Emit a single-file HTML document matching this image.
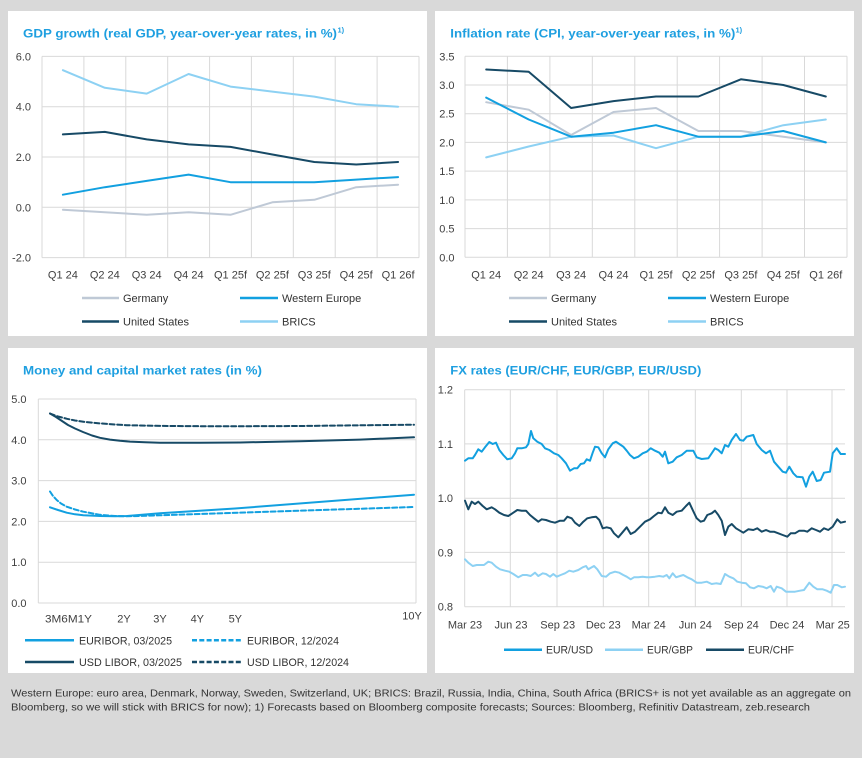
<!DOCTYPE html>
<html><head><meta charset="utf-8"><style>
html,body{margin:0;padding:0;background:#d9d9d9;}
svg{display:block;}
text{font-family:"Liberation Sans",sans-serif;}
.t{font-size:12px;font-weight:bold;fill:#1E9FE0;}
.sup{font-size:7.5px;font-weight:bold;fill:#1E9FE0;}
.tk{font-size:11px;fill:#404040;}
.lg{font-size:11px;fill:#333;}
.g{stroke:#d9d9d9;stroke-width:1;fill:none;}
.ln{fill:none;stroke-width:2;stroke-linejoin:round;stroke-linecap:round;}
.ft{font-size:10.5px;fill:#333;}
</style></head><body>
<svg width="862" height="758" viewBox="0 0 862 758" xmlns="http://www.w3.org/2000/svg">
<rect x="0" y="0" width="862" height="758" fill="#d9d9d9"/>
<rect x="8" y="11" width="419" height="325" fill="#fff"/>
<rect x="435" y="11" width="419" height="325" fill="#fff"/>
<rect x="8" y="348" width="419" height="325" fill="#fff"/>
<rect x="435" y="348" width="419" height="325" fill="#fff"/>

<!-- ===== GDP ===== -->
<text class="t" x="23" y="37.5" textLength="314" lengthAdjust="spacingAndGlyphs">GDP growth (real GDP, year-over-year rates, in %)</text>
<text class="sup" x="337.5" y="32.5">1)</text>
<g class="g">
<path d="M42 56.4H419M42 106.7H419M42 157H419M42 207.3H419M42 257.6H419"/>
<path d="M42 56.4V257.6M83.9 56.4V257.6M125.8 56.4V257.6M167.7 56.4V257.6M209.6 56.4V257.6M251.4 56.4V257.6M293.3 56.4V257.6M335.2 56.4V257.6M377.1 56.4V257.6M419 56.4V257.6"/>
</g>
<g class="tk" text-anchor="end">
<text x="31" y="60.4">6.0</text><text x="31" y="110.7">4.0</text><text x="31" y="161">2.0</text><text x="31" y="211.3">0.0</text><text x="31" y="261.6">-2.0</text>
</g>
<g class="tk" text-anchor="middle">
<text x="62.9" y="278.5">Q1 24</text><text x="104.8" y="278.5">Q2 24</text><text x="146.7" y="278.5">Q3 24</text><text x="188.6" y="278.5">Q4 24</text><text x="230.5" y="278.5">Q1 25f</text><text x="272.4" y="278.5">Q2 25f</text><text x="314.3" y="278.5">Q3 25f</text><text x="356.2" y="278.5">Q4 25f</text><text x="398.1" y="278.5">Q1 26f</text>
</g>
<polyline class="ln" stroke="#BFC9D6" points="62.9,209.8 104.8,212.3 146.7,214.8 188.6,212.3 230.5,214.8 272.4,202.3 314.3,199.8 356.2,187.2 398.1,184.7"/>
<polyline class="ln" stroke="#12A0E0" points="62.9,194.7 104.8,187.2 146.7,180.9 188.6,174.6 230.5,182.2 272.4,182.2 314.3,182.2 356.2,179.6 398.1,177.1"/>
<polyline class="ln" stroke="#174A66" points="62.9,134.4 104.8,131.9 146.7,139.4 188.6,144.4 230.5,146.9 272.4,154.5 314.3,162 356.2,164.5 398.1,162"/>
<polyline class="ln" stroke="#8DD1F3" points="62.9,70.2 104.8,87.8 146.7,93.6 188.6,74 230.5,86.6 272.4,91.6 314.3,96.6 356.2,104.2 398.1,106.7"/>
<g stroke-width="2.5">
<line x1="82" y1="298" x2="119" y2="298" stroke="#BFC9D6"/>
<line x1="240" y1="298" x2="278" y2="298" stroke="#12A0E0"/>
<line x1="82" y1="321.5" x2="119" y2="321.5" stroke="#174A66"/>
<line x1="240" y1="321.5" x2="278" y2="321.5" stroke="#8DD1F3"/>
</g>
<g class="lg">
<text x="123" y="302">Germany</text><text x="282" y="302">Western Europe</text>
<text x="123" y="325.5">United States</text><text x="282" y="325.5">BRICS</text>
</g>

<!-- ===== Inflation ===== -->
<text class="t" x="450.3" y="37.5" textLength="285" lengthAdjust="spacingAndGlyphs">Inflation rate (CPI, year-over-year rates, in %)</text>
<text class="sup" x="735.5" y="32.5">1)</text>
<g class="g">
<path d="M465 56.3H847M465 85H847M465 113.7H847M465 142.4H847M465 171.1H847M465 199.9H847M465 228.6H847M465 257.3H847"/>
<path d="M465 56.3V257.3M507.4 56.3V257.3M549.9 56.3V257.3M592.3 56.3V257.3M634.8 56.3V257.3M677.2 56.3V257.3M719.6 56.3V257.3M762.1 56.3V257.3M804.5 56.3V257.3M847 56.3V257.3"/>
</g>
<g class="tk" text-anchor="end">
<text x="454.5" y="60.3">3.5</text><text x="454.5" y="89">3.0</text><text x="454.5" y="117.7">2.5</text><text x="454.5" y="146.4">2.0</text><text x="454.5" y="175.1">1.5</text><text x="454.5" y="203.9">1.0</text><text x="454.5" y="232.6">0.5</text><text x="454.5" y="261.3">0.0</text>
</g>
<g class="tk" text-anchor="middle">
<text x="486.2" y="278.5">Q1 24</text><text x="528.7" y="278.5">Q2 24</text><text x="571.1" y="278.5">Q3 24</text><text x="613.5" y="278.5">Q4 24</text><text x="656" y="278.5">Q1 25f</text><text x="698.4" y="278.5">Q2 25f</text><text x="740.9" y="278.5">Q3 25f</text><text x="783.3" y="278.5">Q4 25f</text><text x="825.8" y="278.5">Q1 26f</text>
</g>
<polyline class="ln" stroke="#BFC9D6" points="486.2,102.2 528.7,109.7 571.1,135 613.5,112 656,108 698.4,131 740.9,131 783.3,136.7 825.8,142.4"/>
<polyline class="ln" stroke="#8DD1F3" points="486.2,157.4 528.7,146.5 571.1,136.7 613.5,135.5 656,148.2 698.4,136.7 740.9,136.7 783.3,125.2 825.8,119.5"/>
<polyline class="ln" stroke="#12A0E0" points="486.2,97.6 528.7,119.5 571.1,136.7 613.5,132.7 656,125.2 698.4,136.7 740.9,136.7 783.3,131 825.8,142.4"/>
<polyline class="ln" stroke="#174A66" points="486.2,69.5 528.7,71.8 571.1,108 613.5,101.1 656,96.5 698.4,96.5 740.9,79.3 783.3,85 825.8,96.5"/>
<g stroke-width="2.5">
<line x1="509" y1="298" x2="547" y2="298" stroke="#BFC9D6"/>
<line x1="668" y1="298" x2="706" y2="298" stroke="#12A0E0"/>
<line x1="509" y1="321.5" x2="547" y2="321.5" stroke="#174A66"/>
<line x1="668" y1="321.5" x2="706" y2="321.5" stroke="#8DD1F3"/>
</g>
<g class="lg">
<text x="551" y="302">Germany</text><text x="710" y="302">Western Europe</text>
<text x="551" y="325.5">United States</text><text x="710" y="325.5">BRICS</text>
</g>

<!-- ===== Money market ===== -->
<text class="t" x="23" y="374.5" textLength="239" lengthAdjust="spacingAndGlyphs">Money and capital market rates (in %)</text>
<g class="g">
<path d="M38.3 399H416M38.3 439.8H416M38.3 480.6H416M38.3 521.4H416M38.3 562.2H416M38.3 603H416"/>
<path d="M38.3 399V603M416 399V603"/>
</g>
<g class="tk" text-anchor="end">
<text x="26.5" y="403">5.0</text><text x="26.5" y="443.8">4.0</text><text x="26.5" y="484.6">3.0</text><text x="26.5" y="525.4">2.0</text><text x="26.5" y="566.2">1.0</text><text x="26.5" y="607">0.0</text>
</g>
<g class="tk">
<text x="45" y="622.5" textLength="47" lengthAdjust="spacingAndGlyphs">3M6M1Y</text>
<text x="124" y="622.5" text-anchor="middle">2Y</text>
<text x="160" y="622.5" text-anchor="middle">3Y</text>
<text x="197.3" y="622.5" text-anchor="middle">4Y</text>
<text x="235.3" y="622.5" text-anchor="middle">5Y</text>
<text x="412" y="619.5" text-anchor="middle">10Y</text>
</g>
<polyline class="ln" stroke="#174A66" stroke-dasharray="5,2.6" stroke-linecap="butt" points="50,413.5 58,416.5 67,418.8 75,420.5 85,422 100,423.4 115,424.5 127,425.2 160,425.9 200,426.2 250,426.2 300,426 360,425.3 414,424.7"/>
<polyline class="ln" stroke="#174A66" points="50,413.5 56,417 62,421 68,425 75,428.5 83,432 92,435.5 100,437.8 110,439.6 120,440.8 130,441.6 145,442.3 160,442.7 200,442.8 240,442.5 300,441.2 360,439.6 414,437.3"/>
<polyline class="ln" stroke="#12A0E0" stroke-dasharray="5,2.6" stroke-linecap="butt" points="50,491.5 53,496 56.7,500 61,503.5 66.7,506.7 75,509.5 83.3,511.7 100,514.8 115,516 127,516.3 160,515.3 200,514 300,510.7 414,507"/>
<polyline class="ln" stroke="#12A0E0" points="50,507.3 58,510 66.7,512.7 75,514.3 83.3,515.2 100,516 115,516.2 127,516 160,513.2 235,508.5 414,494.7"/>
<g stroke-width="2.5">
<line x1="25" y1="640.3" x2="74" y2="640.3" stroke="#12A0E0"/>
<line x1="192" y1="640.3" x2="242" y2="640.3" stroke="#12A0E0" stroke-dasharray="5,2.3"/>
<line x1="25" y1="662" x2="74" y2="662" stroke="#174A66"/>
<line x1="192" y1="662" x2="242" y2="662" stroke="#174A66" stroke-dasharray="5,2.3"/>
</g>
<g class="lg">
<text x="79" y="644.3" textLength="93" lengthAdjust="spacingAndGlyphs">EURIBOR, 03/2025</text>
<text x="247" y="644.3" textLength="92" lengthAdjust="spacingAndGlyphs">EURIBOR, 12/2024</text>
<text x="79" y="666" textLength="103" lengthAdjust="spacingAndGlyphs">USD LIBOR, 03/2025</text>
<text x="247" y="666" textLength="102" lengthAdjust="spacingAndGlyphs">USD LIBOR, 12/2024</text>
</g>

<!-- ===== FX ===== -->
<text class="t" x="450.3" y="374.5" textLength="251" lengthAdjust="spacingAndGlyphs">FX rates (EUR/CHF, EUR/GBP, EUR/USD)</text>
<g class="g">
<path d="M464.7 389.7H845M464.7 443.9H845M464.7 498.2H845M464.7 552.4H845M464.7 606.7H845"/>
<path d="M464.7 389.7V606.7M510.3 389.7V606.7M557 389.7V606.7M603.3 389.7V606.7M648.7 389.7V606.7M695.3 389.7V606.7M741.3 389.7V606.7M787 389.7V606.7M832 389.7V606.7"/>
</g>
<g class="tk" text-anchor="end">
<text x="453" y="393.7">1.2</text><text x="453" y="447.9">1.1</text><text x="453" y="502.2">1.0</text><text x="453" y="556.4">0.9</text><text x="453" y="610.7">0.8</text>
</g>
<g class="tk" text-anchor="middle">
<text x="465" y="628.5">Mar 23</text><text x="511" y="628.5">Jun 23</text><text x="557.7" y="628.5">Sep 23</text><text x="603.3" y="628.5">Dec 23</text><text x="648.7" y="628.5">Mar 24</text><text x="695.3" y="628.5">Jun 24</text><text x="741.3" y="628.5">Sep 24</text><text x="787" y="628.5">Dec 24</text><text x="832.7" y="628.5">Mar 25</text>
</g>
<polyline class="ln" stroke-width="2.2" stroke="#12A0E0" points="465,460.7 468.3,458.3 472.7,458.3 475,455 478.3,449.3 481.7,451.7 485,447.3 489.3,442 492.7,444 496,442.7 499.3,450 503.3,455 507.3,459.3 511.7,458.3 515,453.3 517.3,448.3 521.7,448.3 526,447.3 528.3,444 531,431 533.3,438.3 537.3,441.7 541.7,444 545,448.3 549.3,450 554,453.3 558.3,455 561.7,458.3 566,463.3 570,470.7 574,468.3 577.3,468.3 580.7,464 584,463.3 586.7,459.3 590,460.7 592.7,452.7 595,446.7 598.3,447.3 601.7,453.3 605,457.3 608.3,449.3 612.7,443.3 616,441.7 619.3,444 623.3,446.7 626.7,450.7 630,455 634,458.3 638.3,456.7 642.7,453.3 646.7,451.7 650.7,448.3 655,450.7 659.3,452.7 662.7,456.7 665,451.7 668.3,463.3 672.7,461.7 676.7,457.3 681.7,455 686.7,450.7 693.3,450.7 696.7,457.3 701.7,459 708.3,458.3 711.7,453.3 715,448.3 718.3,450 721.7,453.3 725,445 728.3,446.7 731.7,440 736,434 740,440 743.3,440.7 746.7,436.7 753.3,435 756.7,444 761.7,450 766,453.3 770,450.7 774,461.7 778.3,466.7 782.7,471.7 786,472.7 789.3,466.7 793.3,473.3 796.7,476.7 802.7,477.3 806,486.7 809.3,476.7 812.7,471.7 816.7,481 820.7,480 824,472.7 830,471.7 832.7,453.3 836.7,448.3 840.7,454 845,454"/>
<polyline class="ln" stroke-width="2.2" stroke="#8DD1F3" points="465,559.3 468.3,562.7 472.7,566 476.7,565 480.7,565 484,565 488.3,561.7 491.7,562.7 496,566.7 500,569.3 505,570.7 509.3,571.7 513.3,574 518.3,577.3 522.7,575 526.7,575 530.7,576 535,572.7 538.3,576 542.7,573.3 546,574 550,576.7 553.3,574 556.7,576.7 560.7,575 565,573.3 569.3,570.7 573.3,571.7 578.3,570 582.7,567.3 586,566 588.3,569.3 594,566 597.3,569.3 601.7,576 606,576.7 610,573.3 615,571.7 619.3,572.7 623.3,575 626.7,576.7 630.7,579.3 634,577.3 638.3,577.3 642.7,576.7 646.7,577.3 650,577.3 655,576.7 659.3,576 663.3,576.7 666.7,575 669.3,578.3 672.7,573.3 676,577.3 680,576 683.3,575 687.3,577.3 691.7,579.3 696.7,582.7 701.7,582.7 706.7,581.7 711.7,584 716,583.3 720.7,584 725,574 729.3,576.7 733.3,578.3 737.3,581.7 741.7,582.7 746,583.3 750,587.3 754,588.3 758.3,586 762.7,586.7 766.7,588.3 770.7,586 774,591.7 776.7,586.7 781.7,588.3 786,591.7 790,591.7 795,591.7 800,590.7 804,590 809.3,582.7 813.3,586.7 817.3,589.3 822.7,589.3 826.7,590.7 830.7,592.7 834,585 837.3,585 841.7,587.3 845,586.7"/>
<polyline class="ln" stroke-width="2.2" stroke="#174A66" points="465,500.7 468.3,509.3 471.7,501.7 475,504 478.3,501.7 482.7,506 486.7,509.3 491.7,507.3 495,509.3 499.3,512.7 504,515 508.3,516 513.3,512.7 517.3,510 521.7,510.7 526,510.7 530,515 534,518.3 538.3,521.7 541.7,519.3 546,520 550.7,521.7 555,522.7 560,520.7 564,520.7 567.3,516.7 571.7,518.3 575,522.7 579.3,526 583.3,521.7 587.3,518.3 591.7,517.3 596,516.7 599.3,520 602.7,528.3 606.7,527.3 610.7,528.3 614,533.3 618.3,537.3 621.7,533.3 626.7,527.3 630.7,534 635,531.7 640,526.7 645,521.7 650,519.3 654,516 658.3,512.7 661.7,513.3 665,507.3 668.3,512.7 672.7,515 676.7,511.7 681.7,510.7 686,506 689.3,502.7 692.7,510 696.7,518.3 700.7,521.7 704,520.7 707.3,515 711.7,513.3 715,510.7 718.3,515 721.7,520.7 725,535 728.3,526.7 731.7,524 736,528.3 740,530.7 743.3,532.7 748.3,529.3 753.3,530 757.3,528.3 761.7,531.7 766,530 770,531.7 774,531.7 778.3,533.3 782.7,535 787.3,536.7 790.7,533.3 795,533.3 799.3,530.7 804,530.7 807.3,531.7 811.7,528.3 816,530 820,531.7 824,528.3 828.3,530 832.7,526.7 837.3,519.3 840.7,522.7 845,521.7"/>
<g stroke-width="2.5">
<line x1="504" y1="649.7" x2="542" y2="649.7" stroke="#12A0E0"/>
<line x1="605" y1="649.7" x2="643" y2="649.7" stroke="#8DD1F3"/>
<line x1="706" y1="649.7" x2="744" y2="649.7" stroke="#174A66"/>
</g>
<g class="lg">
<text x="546" y="653.7" textLength="47" lengthAdjust="spacingAndGlyphs">EUR/USD</text>
<text x="647" y="653.7" textLength="46" lengthAdjust="spacingAndGlyphs">EUR/GBP</text>
<text x="748" y="653.7" textLength="46" lengthAdjust="spacingAndGlyphs">EUR/CHF</text>
</g>

<!-- ===== Footer ===== -->
<text class="ft" x="11" y="696.7" textLength="840" lengthAdjust="spacingAndGlyphs">Western Europe: euro area, Denmark, Norway, Sweden, Switzerland, UK; BRICS: Brazil, Russia, India, China, South Africa (BRICS+ is not yet available as an aggregate on</text>
<text class="ft" x="11" y="710.7" textLength="799" lengthAdjust="spacingAndGlyphs">Bloomberg, so we will stick with BRICS for now); 1) Forecasts based on Bloomberg composite forecasts; Sources: Bloomberg, Refinitiv Datastream, zeb.research</text>
</svg>
</body></html>
